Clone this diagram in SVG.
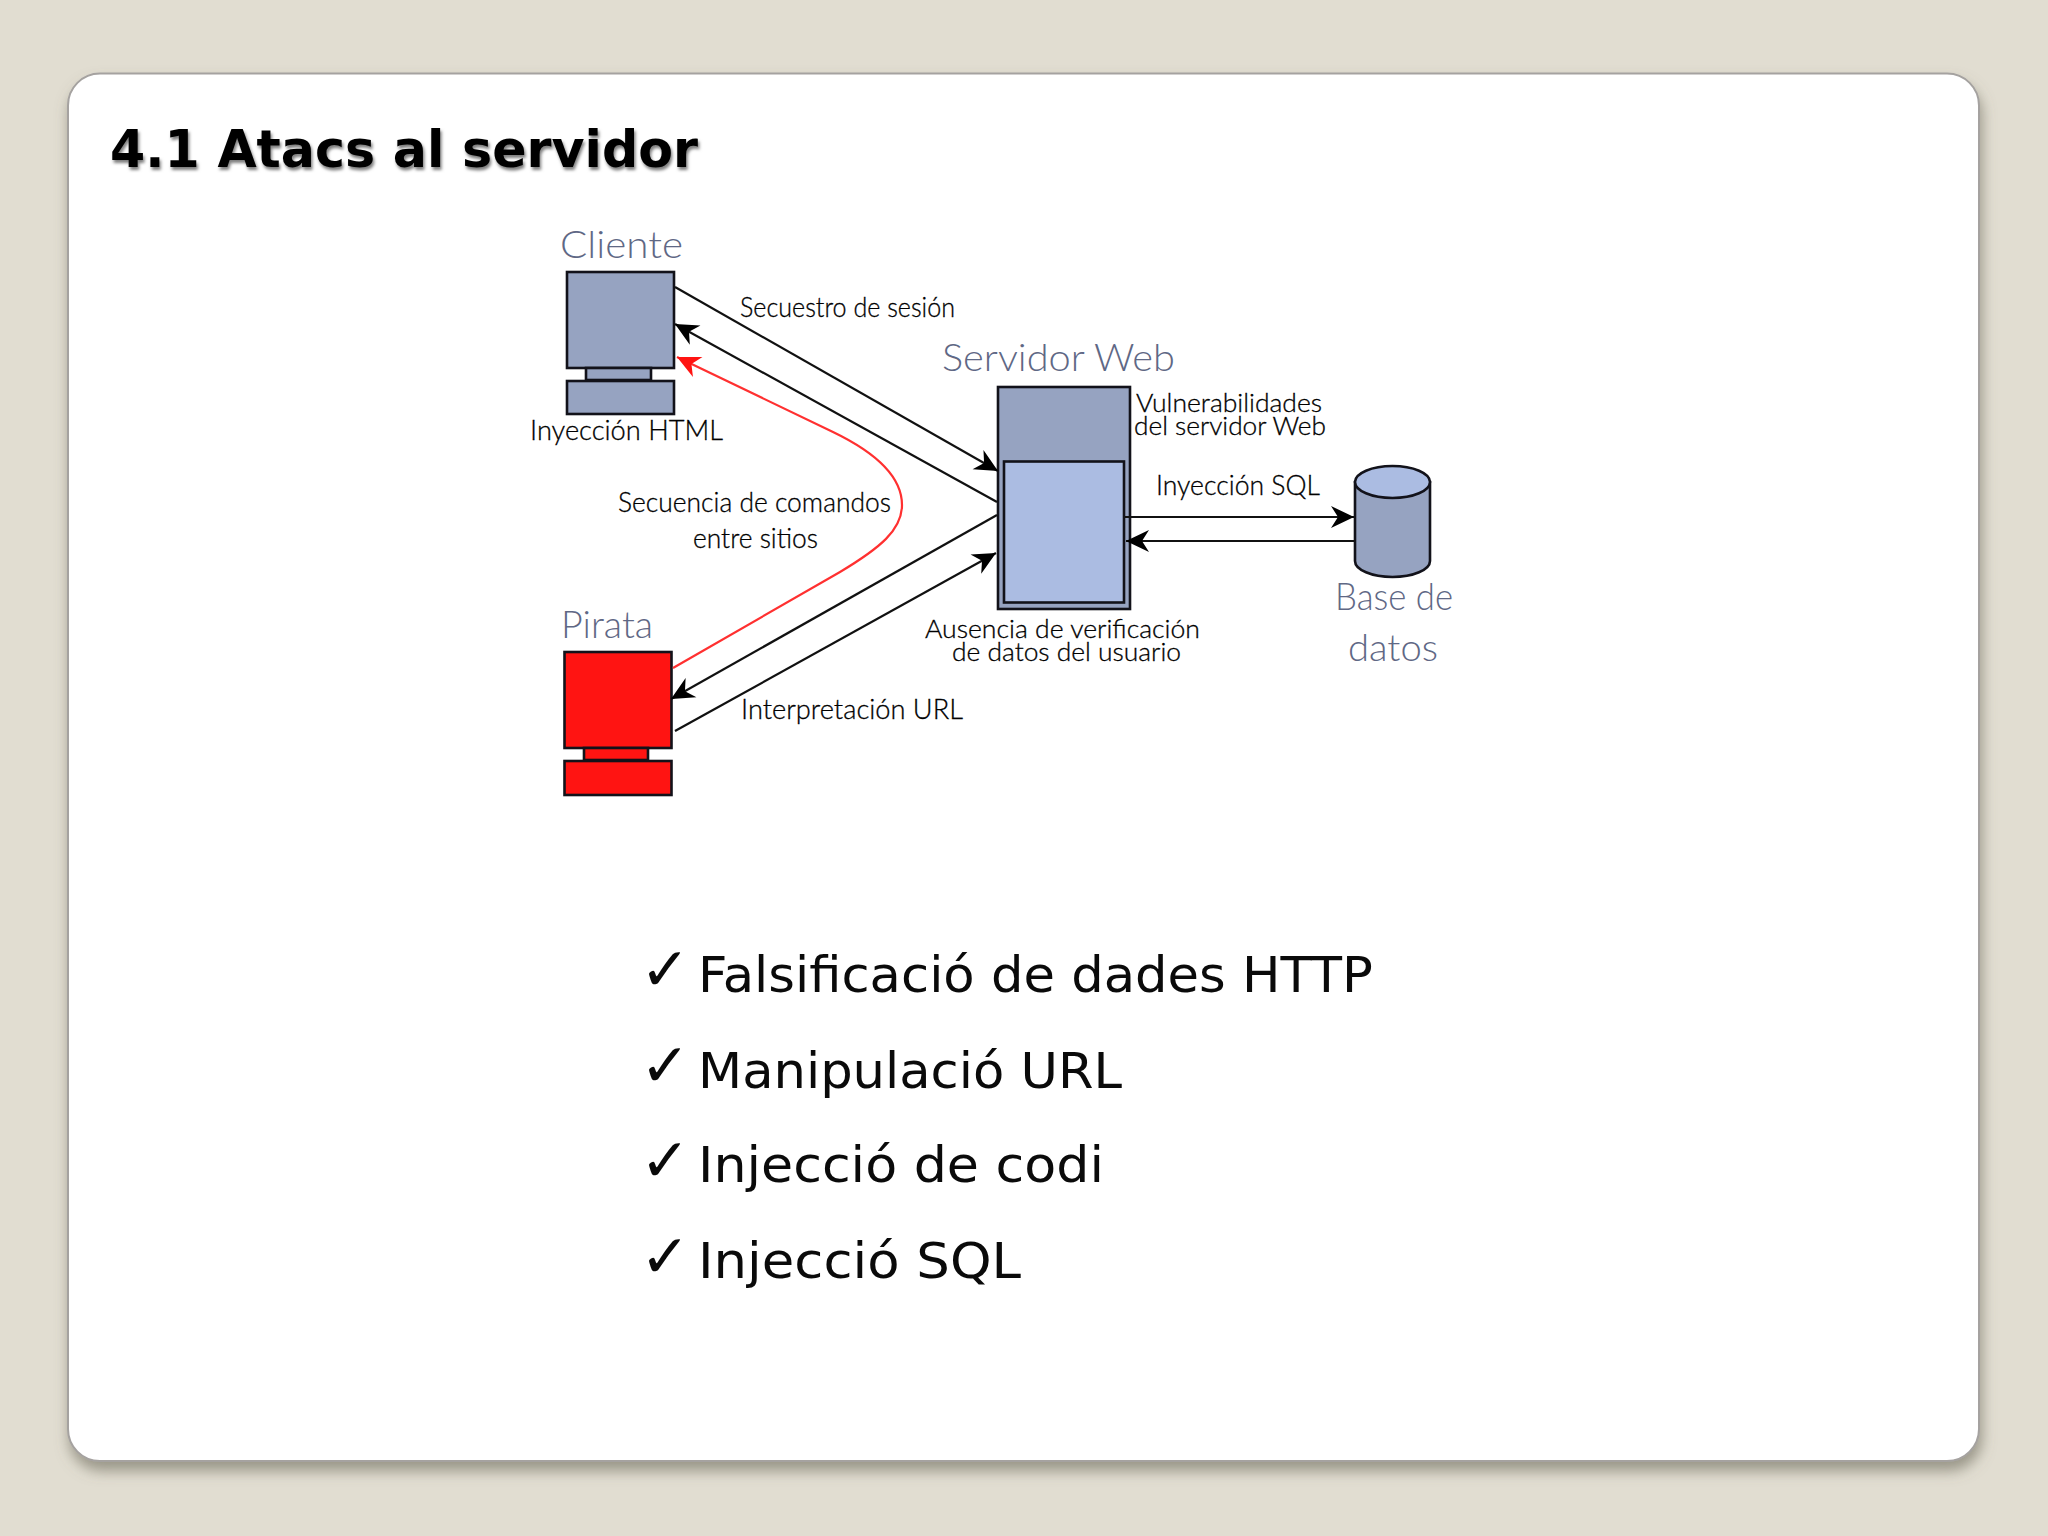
<svg xmlns="http://www.w3.org/2000/svg" width="2048" height="1536" viewBox="0 0 2048 1536">
<defs>
<style>
.box{stroke:#12121a;stroke-width:2.6}
.blue{fill:#96a3c1}
.light{fill:#abbce2}
.red{fill:#ff1412}
.conn{fill:none;stroke:#111;stroke-width:2.2}
.big{font-family:"Lato","Open Sans",sans-serif;font-weight:300;font-size:38px;fill:#5f6885}
.lab{font-family:"Lato","Open Sans",sans-serif;font-weight:300;font-size:27px;fill:#000;stroke:#000;stroke-width:.3}
.tight{font-size:25px}
.title{font-family:"DejaVu Sans",sans-serif;font-weight:700;font-size:51px;fill:#000;filter:url(#ts)}
.body{font-family:"DejaVu Sans",sans-serif;font-size:50px;fill:#0a0a0a}
.chk{font-family:"DejaVu Sans",sans-serif;font-size:60px;fill:#0a0a0a}
</style>
<filter id="ps" x="-5%" y="-5%" width="110%" height="110%"><feDropShadow dx="2" dy="9" stdDeviation="7" flood-color="#6b6858" flood-opacity="0.6"/></filter>
<filter id="ts" x="-5%" y="-20%" width="110%" height="140%"><feDropShadow dx="1.5" dy="3" stdDeviation="1.5" flood-color="#000" flood-opacity="0.5"/></filter>
<marker id="ah" markerUnits="userSpaceOnUse" markerWidth="26" markerHeight="24" refX="24" refY="12" orient="auto"><path d="M24 12L1 1L8 12L1 23Z" fill="#000"/></marker>
<marker id="ahr" markerUnits="userSpaceOnUse" markerWidth="26" markerHeight="24" refX="24" refY="12" orient="auto"><path d="M24 12L1 1L8 12L1 23Z" fill="#ff1412"/></marker>
</defs>
<rect width="2048" height="1536" fill="#e1ddd1"/>
<rect x="68" y="73.500" width="1911" height="1387.500" rx="32" fill="#fff" stroke="#a5a2a0" stroke-width="2" filter="url(#ps)"/>
<text class="title" x="110" y="167" textLength="588" lengthAdjust="spacingAndGlyphs">4.1 Atacs al servidor</text>

<g id="cliente">
<rect class="box blue" x="567" y="272" width="107" height="96"/>
<rect class="box blue" x="586" y="368" width="65" height="12"/>
<rect class="box blue" x="567" y="381" width="107" height="33"/>
<text class="big" x="560" y="258" textLength="123" lengthAdjust="spacingAndGlyphs">Cliente</text>
<text class="lab" x="530" y="440" textLength="193" lengthAdjust="spacingAndGlyphs">Inyección HTML</text>
</g>

<g id="pirata">
<rect class="box red" x="564.500" y="652" width="107" height="96"/>
<rect class="box red" x="584" y="748" width="64" height="12"/>
<rect class="box red" x="564.500" y="761" width="107" height="34"/>
<text class="big" x="561" y="638" textLength="92" lengthAdjust="spacingAndGlyphs">Pirata</text>
</g>

<g id="servidor">
<rect class="box blue" x="998" y="387" width="132" height="222"/>
<rect class="box light" x="1004" y="461.500" width="120" height="141"/>
<text class="big" x="942" y="371" textLength="233" lengthAdjust="spacingAndGlyphs">Servidor Web</text>
<text class="lab tight" x="1136" y="412" textLength="186" lengthAdjust="spacingAndGlyphs">Vulnerabilidades</text>
<text class="lab tight" x="1134" y="435" textLength="192" lengthAdjust="spacingAndGlyphs">del servidor Web</text>
<text class="lab tight" x="925" y="638" textLength="275" lengthAdjust="spacingAndGlyphs">Ausencia de verificación</text>
<text class="lab tight" x="952" y="661" textLength="229" lengthAdjust="spacingAndGlyphs">de datos del usuario</text>
</g>

<g id="base-de-datos">
<path class="box blue" d="M1355 482V561A37.5 16 0 0 0 1430 561V482Z"/>
<ellipse class="box light" cx="1392.500" cy="482" rx="37.500" ry="16"/>
<text class="big" x="1335" y="610" textLength="118" lengthAdjust="spacingAndGlyphs">Base de</text>
<text class="big" x="1348" y="661" textLength="90" lengthAdjust="spacingAndGlyphs">datos</text>
</g>

<g id="connectors">
<path class="conn" d="M675 287L998 471" marker-end="url(#ah)"/>
<path class="conn" d="M997 502L675 324" marker-end="url(#ah)"/>
<path class="conn" d="M997 515L671 699" marker-end="url(#ah)"/>
<path class="conn" d="M675 731L996 553" marker-end="url(#ah)"/>
<path class="conn" d="M1125 517L1354 517" marker-end="url(#ah)"/>
<path class="conn" d="M1355 541L1126 541" marker-end="url(#ah)"/>
<path class="conn" style="stroke:#ff3030" d="M673 668L840 572C880 548 902 530 902 505C902 470 860 445 833 432L677 357" marker-end="url(#ahr)"/>
<text class="lab" x="740" y="317" textLength="215" lengthAdjust="spacingAndGlyphs">Secuestro de sesión</text>
<text class="lab" x="618" y="512" textLength="273" lengthAdjust="spacingAndGlyphs">Secuencia de comandos</text>
<text class="lab" x="693" y="548" textLength="125" lengthAdjust="spacingAndGlyphs">entre sitios</text>
<text class="lab" x="741" y="719" textLength="222" lengthAdjust="spacingAndGlyphs">Interpretación URL</text>
<text class="lab" x="1156" y="495" textLength="164" lengthAdjust="spacingAndGlyphs">Inyección SQL</text>
</g>

<g id="lista">
<text class="chk" x="640" y="990">✓</text>
<text class="body" x="698" y="992" textLength="675" lengthAdjust="spacingAndGlyphs">Falsificació de dades HTTP</text>
<text class="chk" x="640" y="1086">✓</text>
<text class="body" x="698" y="1088" textLength="424" lengthAdjust="spacingAndGlyphs">Manipulació URL</text>
<text class="chk" x="640" y="1181">✓</text>
<text class="body" x="698" y="1182" textLength="406" lengthAdjust="spacingAndGlyphs">Injecció de codi</text>
<text class="chk" x="640" y="1277">✓</text>
<text class="body" x="698" y="1278" textLength="323" lengthAdjust="spacingAndGlyphs">Injecció SQL</text>
</g>
</svg>
